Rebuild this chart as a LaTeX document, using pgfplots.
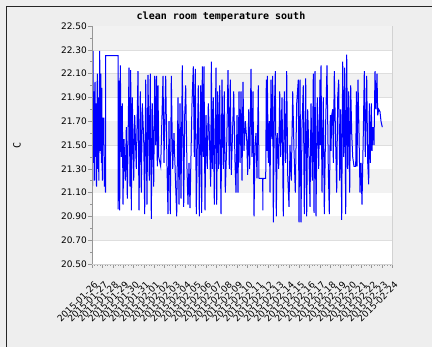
\documentclass[border=0pt]{standalone}
\usepackage{fontspec}
\setmainfont{DejaVu Sans}
\newfontfamily\monof{DejaVu Sans Mono}
\usepackage{pgfplots}
\pgfplotsset{compat=1.18}
\definecolor{bgc}{RGB}{238,238,238}
\definecolor{band}{RGB}{242,242,242}
\definecolor{gridc}{RGB}{222,222,222}
\definecolor{axc}{RGB}{150,150,150}
\definecolor{outl}{RGB}{210,210,210}
\definecolor{ln}{RGB}{0,0,255}
\begin{document}
\begin{tikzpicture}[x=1bp,y=1bp]
\fill[bgc] (0,0) rectangle (432,347);
\useasboundingbox (0,0) rectangle (432,347);
\draw[black!85,line width=1.2bp] (6.5,0) -- (6.5,340.5) -- (432,340.5);
\node[font=\monof\bfseries\fontsize{10bp}{12bp}\selectfont] at (221,330) {clean room temperature south};
\node[font=\monof\fontsize{10bp}{12bp}\selectfont, rotate=90] at (17,202) {C};
\begin{axis}[
  at={(92bp,83bp)}, anchor=south west,
  scale only axis, width=300.3bp, height=238bp,
  xmin=0, xmax=29, ymin=20.5, ymax=22.5,
  axis background/.style={fill=white},
  axis line style={draw=outl},
  xtick={0,...,29},
  xticklabels={2015-01-26,2015-01-27,2015-01-28,2015-01-29,2015-01-30,2015-01-31,2015-02-01,2015-02-02,2015-02-03,2015-02-04,2015-02-05,2015-02-06,2015-02-07,2015-02-08,2015-02-09,2015-02-10,2015-02-11,2015-02-12,2015-02-13,2015-02-14,2015-02-15,2015-02-16,2015-02-17,2015-02-18,2015-02-19,2015-02-20,2015-02-21,2015-02-22,2015-02-23,2015-02-24},
  ytick={20.5,20.7,20.9,21.1,21.3,21.5,21.7,21.9,22.1,22.3,22.5},
  yticklabels={20.50,20.70,20.90,21.10,21.30,21.50,21.70,21.90,22.10,22.30,22.50},
  minor x tick num=3, minor y tick num=1,
  tick pos=left, tick align=outside,
  major tick length=4bp, minor tick length=2bp,
  every tick/.style={draw=axc},
  ymajorgrids, major grid style={draw=gridc, line width=0.5bp},
  /pgf/number format/assume math mode=true,
  yticklabel style={font=\fontsize{9bp}{10bp}\selectfont, inner sep=0pt, xshift=-1bp},
  xticklabel style={font=\fontsize{9bp}{10bp}\selectfont, rotate=45, anchor=north east, inner sep=0pt, xshift=-8bp, yshift=-10bp},
  clip=true,
]
\fill[band] (axis cs:0,22.3) rectangle (axis cs:29,22.5);
\fill[band] (axis cs:0,21.9) rectangle (axis cs:29,22.1);
\fill[band] (axis cs:0,21.5) rectangle (axis cs:29,21.7);
\fill[band] (axis cs:0,21.1) rectangle (axis cs:29,21.3);
\fill[band] (axis cs:0,20.7) rectangle (axis cs:29,20.9);
\addplot[ln, line width=1.0bp, mark=none] coordinates {
(0,21.60)(0.048,21.15)(0.097,22.29)(0.145,21.35)(0.193,21.95)(0.241,21.20)(0.290,22.03)(0.338,21.40)(0.386,21.85)(0.435,21.15)(0.512,22.10)(0.560,21.30)(0.608,21.90)(0.657,21.20)(0.744,22.29)(0.792,21.45)(0.850,22.10)(0.898,21.35)(0.946,21.98)(0.995,21.20)(1.043,21.73)(1.091,21.50)(1.140,21.73)(1.188,21.15)(1.226,21.40)(1.304,21.10)(1.323,22.25)(2.511,22.25)(2.530,20.96)
(2.607,22.04)(2.675,20.95)(2.733,22.17)(2.830,21.40)(2.926,21.85)(2.994,21.00)(3.090,21.55)(3.216,21.20)(3.313,21.65)(3.409,21.05)(3.573,22.15)(3.670,21.15)(3.737,22.13)(3.795,20.95)(3.892,21.90)(4.027,21.20)(4.124,21.75)(4.278,21.30)(4.442,22.12)(4.539,20.95)(4.664,21.95)(4.761,21.10)(4.857,21.85)(4.993,21.55)(5.089,20.92)(5.186,22.05)(5.311,21.00)(5.408,22.09)(5.534,21.20)(5.630,22.10)(5.727,20.88)(5.823,21.85)(5.959,21.15)(6.055,22.08)(6.152,21.50)(6.229,22.08)(6.306,21.32)(6.374,22.00)(6.441,21.40)(6.634,21.32)(6.857,22.08)(6.953,21.35)(7.117,22.08)(7.243,21.32)(7.339,20.92)(7.436,21.70)(7.561,20.92)(7.658,22.08)(7.793,21.30)(7.919,21.60)(8.044,21.25)(8.180,20.90)(8.305,21.90)(8.402,21.00)(8.498,21.85)(8.595,21.05)(8.720,22.17)(8.856,20.98)(8.952,21.75)(9.049,22.00)(9.174,21.30)(9.271,21.00)(9.368,21.35)(9.464,20.97)(9.657,21.85)(9.783,22.16)(9.879,21.40)(9.976,22.14)(10.072,20.92)(10.169,21.50)
(10.265,22.00)(10.362,20.90)(10.497,22.00)(10.594,20.93)(10.652,22.16)(10.749,21.40)(10.816,22.16)(10.913,20.95)(11.009,21.75)(11.135,21.30)(11.231,21.85)(11.328,21.60)(11.463,21.15)(11.521,22.20)(11.618,21.30)(11.714,21.90)(11.811,21.00)(11.975,22.15)(12.043,21.00)(12.139,21.95)(12.236,21.30)(12.332,22.00)(12.458,20.92)(12.554,22.05)(12.680,21.30)(12.776,21.95)(12.873,21.10)(13.008,21.50)(13.134,22.13)(13.259,21.30)(13.356,22.05)(13.452,21.25)(13.588,21.65)(13.684,21.95)(13.810,21.35)(13.906,21.10)(14.003,21.75)(14.099,21.10)(14.196,21.95)(14.293,21.35)(14.389,21.95)(14.486,21.20)(14.582,22.03)(14.679,21.45)(14.804,21.70)(14.940,21.55)(15.036,21.25)(15.133,21.80)(15.229,21.30)(15.355,22.14)(15.451,21.40)(15.548,21.95)(15.645,20.90)(15.741,21.50)(15.838,21.60)(15.934,21.22)(16.060,22.00)(16.127,21.22)(16.485,21.22)(16.495,20.95)(16.514,21.22)(16.775,21.22)
(16.832,22.05)(16.880,21.45)(16.929,22.08)(17.026,21.35)(17.122,21.70)(17.190,21.10)(17.286,22.05)(17.383,21.55)(17.451,22.08)(17.509,20.85)(17.605,21.75)(17.702,22.12)(17.798,20.90)(17.895,21.60)(18.030,21.30)(18.127,21.95)(18.223,21.40)(18.349,21.90)(18.474,20.90)(18.571,21.95)(18.706,21.35)(18.803,22.12)(18.899,21.25)(19.025,20.98)(19.121,21.50)(19.247,21.20)(19.382,21.95)(19.508,21.45)(19.633,21.10)(19.768,21.85)(19.923,22.05)(19.990,20.85)(20.087,22.05)(20.183,20.85)(20.280,21.65)(20.405,22.00)(20.502,20.92)(20.637,22.06)(20.734,20.90)(20.830,21.80)(20.956,21.40)(21.053,20.98)(21.149,21.85)(21.275,21.20)(21.371,22.10)(21.439,20.93)(21.535,22.12)(21.632,20.90)(21.758,21.90)(21.893,21.30)(22.018,22.05)(22.066,21.50)(22.115,22.17)(22.212,21.10)(22.337,21.90)(22.434,20.92)(22.569,21.70)(22.694,22.17)(22.820,21.30)(22.916,20.92)
(23.013,21.75)(23.080,21.45)(23.148,21.75)(23.245,21.80)(23.303,21.35)(23.399,22.12)(23.535,21.50)(23.631,21.10)(23.728,21.90)(23.824,22.05)(23.921,21.20)(24.017,21.80)(24.114,20.87)(24.210,22.20)(24.307,21.40)(24.404,22.15)(24.500,20.92)(24.597,22.26)(24.693,21.30)(24.790,21.95)(24.886,21.10)(24.983,22.00)(25.079,21.60)(25.176,21.40)(25.302,21.32)(25.466,21.32)(25.530,21.95)(25.591,21.32)(25.688,22.05)(25.784,21.60)(25.881,21.10)(25.978,21.35)(26.074,21.00)(26.200,21.60)(26.296,22.12)(26.393,21.40)(26.528,22.08)(26.625,21.35)(26.721,21.17)(26.779,21.85)(26.876,21.35)(26.972,21.85)(27.040,21.45)(27.136,21.65)(27.233,21.50)(27.330,22.12)(27.426,21.80)(27.523,22.10)(27.590,21.75)(27.687,21.80)(27.812,21.78)(27.909,21.70)(28.035,21.65)
};
\draw[axc, line width=0.6bp] (rel axis cs:0,0) -- (rel axis cs:0,1);
\draw[axc, line width=0.6bp] (rel axis cs:0,0) -- (rel axis cs:1,0);
\end{axis}
\end{tikzpicture}
\end{document}
